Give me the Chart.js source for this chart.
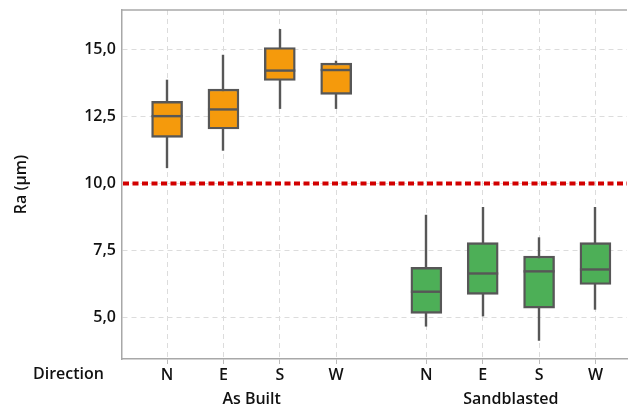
<!DOCTYPE html>
<html>
<head>
<meta charset="utf-8">
<script src="https://cdn.jsdelivr.net/npm/chart.js@4.4.1/dist/chart.umd.min.js"></script>
<style>
  html, body { margin: 0; padding: 0; background: #fff; }
  #wrap { width: 628px; height: 410px; }
</style>
</head>
<body>
<div id="wrap"><canvas id="c" width="628" height="410"></canvas></div>
<script>
// Surface roughness Ra per build direction, before and after sandblasting
const directions = ['N', 'E', 'S', 'W'];
const groups = ['As Built', 'Sandblasted'];

// Box-plot statistics, in order: As Built N,E,S,W then Sandblasted N,E,S,W
const whiskerLow  = [10.57, 11.22, 12.78, 12.78, 4.66, 5.04, 4.13, 5.29];
const quartile1   = [11.72, 12.03, 13.84, 13.32, 5.15, 5.86, 5.35, 6.23];
const medianVals  = [12.51, 12.76, 14.21, 14.23, 5.96, 6.64, 6.72, 6.79];
const quartile3   = [13.06, 13.52, 15.07, 14.49, 6.87, 7.79, 7.29, 7.79];
const whiskerHigh = [13.87, 14.80, 15.76, 14.58, 8.83, 9.12, 7.99, 9.12];

const yTicks = [5.0, 7.5, 10.0, 12.5, 15.0];
const threshold = 10.0;

const groupColors = ['#F59A0C', '#4DAF57'];
const GROUP_GAP = 0.6;
const FONT = '"Open Sans", "Noto Sans", sans-serif';
const EDGE = '#575757';

// x position of each box, groups separated by a small gap
const positions = [];
const labelAt = {};
const colors = [];
groups.forEach((g, gi) => {
  directions.forEach((d, di) => {
    const p = +(gi * (directions.length + GROUP_GAP) + di + 1).toFixed(2);
    positions.push(p);
    labelAt[p] = d;
    colors.push(groupColors[gi]);
  });
});

const boxData = positions.map((p, i) => ({ x: p, y: [quartile1[i], quartile3[i]] }));

const boxPlotExtras = {
  id: 'boxPlotExtras',
  beforeDatasetsDraw(chart) {
    const { ctx, scales: { x, y } } = chart;
    ctx.save();
    ctx.strokeStyle = EDGE;
    ctx.lineWidth = 2.4;
    positions.forEach((p, i) => {
      const px = Math.round(x.getPixelForValue(p));
      ctx.beginPath();
      ctx.moveTo(px, y.getPixelForValue(whiskerLow[i]));
      ctx.lineTo(px, y.getPixelForValue(whiskerHigh[i]));
      ctx.stroke();
    });
    ctx.restore();
  },
  afterDatasetsDraw(chart) {
    const { ctx, chartArea, scales: { x, y } } = chart;
    const meta = chart.getDatasetMeta(0);
    ctx.save();
    ctx.strokeStyle = EDGE;
    ctx.lineWidth = 2.4;
    meta.data.forEach((bar, i) => {
      const half = bar.width / 2;
      const py = y.getPixelForValue(medianVals[i]);
      ctx.beginPath();
      ctx.moveTo(bar.x - half, py);
      ctx.lineTo(bar.x + half, py);
      ctx.stroke();
    });

    // reference level
    const ty = y.getPixelForValue(threshold);
    ctx.strokeStyle = '#D20000';
    ctx.lineWidth = 4;
    ctx.setLineDash([6, 3.5]);
    ctx.beginPath();
    ctx.moveTo(chartArea.left + 1, ty);
    ctx.lineTo(chartArea.right, ty);
    ctx.stroke();
    ctx.setLineDash([]);

    // top frame line
    ctx.strokeStyle = '#a8a8a8';
    ctx.lineWidth = 1.5;
    ctx.beginPath();
    ctx.moveTo(chartArea.left, chartArea.top);
    ctx.lineTo(chartArea.right, chartArea.top);
    ctx.stroke();

    // group labels under the direction ticks
    ctx.fillStyle = '#111';
    ctx.font = '600 16px ' + FONT;
    ctx.textAlign = 'center';
    ctx.textBaseline = 'middle';
    groups.forEach((g, gi) => {
      const first = positions[gi * directions.length];
      const last = positions[gi * directions.length + directions.length - 1];
      const cx = (x.getPixelForValue(first) + x.getPixelForValue(last)) / 2;
      ctx.fillText(g, cx, 399);
    });

    // row label for the tick row
    ctx.textAlign = 'left';
    ctx.fillText('Direction', 33, 374);

    // y axis title
    ctx.translate(21, (chartArea.top + chartArea.bottom) / 2);
    ctx.rotate(-Math.PI / 2);
    ctx.textAlign = 'center';
    ctx.fillText('Ra (µm)', 0, 0);
    ctx.restore();
  }
};

new Chart(document.getElementById('c'), {
  type: 'bar',
  data: {
    datasets: [{
      data: boxData,
      backgroundColor: colors,
      borderColor: EDGE,
      borderWidth: 2.4,
      borderSkipped: false,
      barThickness: 31
    }]
  },
  options: {
    responsive: false,
    animation: false,
    devicePixelRatio: 1,
    layout: { padding: { top: 10, right: 1, left: 0, bottom: 0 } },
    plugins: { legend: { display: false }, tooltip: { enabled: false } },
    scales: {
      x: {
        type: 'linear',
        offset: false,
        min: 0.2,
        max: 9.16,
        afterBuildTicks(scale) { scale.ticks = positions.map(v => ({ value: v })); },
        afterFit(scale) {
          scale.height = 51;
          scale.paddingLeft = 0;
          scale.paddingRight = 0;
        },
        ticks: {
          autoSkip: false,
          maxRotation: 0,
          color: '#111',
          padding: 2,
          font: { family: FONT, size: 16, weight: '600' },
          callback: v => labelAt[+v.toFixed(2)] || ''
        },
        grid: { offset: false, color: '#dcdcdc', lineWidth: 1, tickLength: 5, tickColor: '#bbb' },
        border: { display: true, color: '#a8a8a8', width: 1.5, dash: [5, 4] }
      },
      y: {
        min: 3.45,
        max: 16.47,
        afterBuildTicks(scale) { scale.ticks = yTicks.map(v => ({ value: v })); },
        afterFit(scale) {
          scale.width = 122;
          scale.paddingTop = 0;
          scale.paddingBottom = 0;
        },
        ticks: {
          color: '#111',
          padding: 6,
          font: { family: FONT, size: 16, weight: '600' },
          callback: v => v.toFixed(1).replace('.', ',')
        },
        grid: { color: '#dcdcdc', lineWidth: 1, drawTicks: false },
        border: { display: true, color: '#a8a8a8', width: 1.5, dash: [5, 4] }
      }
    }
  },
  plugins: [boxPlotExtras]
});
</script>
</body>
</html>
